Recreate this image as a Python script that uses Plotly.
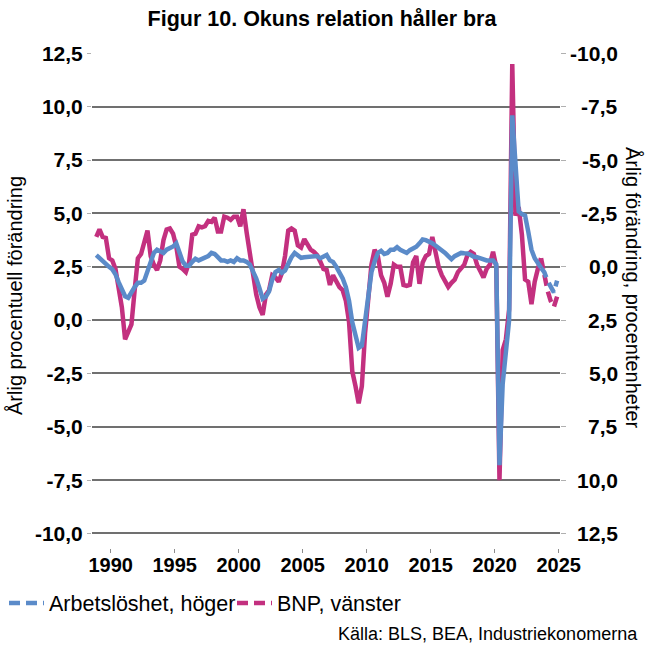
import pandas as pd
import plotly.graph_objects as go

# ---------------- data ----------------
quarters = pd.period_range("1988Q4", "2024Q4", freq="Q")
last_outcome = "2023Q3"   # after this quarter: forecast (dashed)

# BNP, annual % change (left axis)
bnp = [3.9, 4.25, 3.9, 3.85, 2.9, 2.8, 2.4, 1.6, 0.6, -0.9,
       -0.6, -0.2, 1.4, 2.9, 3.1, 3.6, 4.2, 3.0, 2.6, 2.35,
       2.8, 3.75, 4.25, 4.3, 4.05, 3.45, 2.5, 2.4, 2.25, 2.7,
       4.0, 4.05, 4.4, 4.35, 4.4, 4.65, 4.6, 4.8, 4.15, 4.15,
       4.85, 4.8, 4.7, 4.85, 4.85, 4.4, 5.2, 4.1, 3.0, 2.1,
       1.2, 0.6, 0.25, 1.2, 1.4, 2.1, 2.0, 1.8, 2.2, 3.0,
       4.2, 4.3, 4.2, 3.5, 3.4, 3.8, 3.55, 3.3, 3.2, 3.05,
       2.75, 2.4, 2.35, 1.65, 2.1, 1.8, 1.55, 1.4, 0.9, -0.1,
       -2.4, -3.1, -3.9, -3.1, -0.6, 1.0, 2.6, 3.3, 3.0, 2.1,
       1.75, 1.1, 1.7, 2.6, 2.5, 2.5, 1.65, 1.6, 1.65, 2.7,
       3.0, 1.7, 2.7, 3.0, 3.1, 3.9, 3.1, 2.5, 2.1, 1.8,
       1.56, 1.75, 1.9, 2.25, 2.4, 2.6, 3.05, 3.2, 3.1, 2.6,
       2.3, 2.0, 2.4, 2.6, 3.2, 2.5, -7.5, -1.4, -0.9, 0.5,
       12.0, 4.9, 5.3, 4.0, 1.9, 1.8, 0.75, 1.8, 2.4, 2.9,
       2.0, 1.4, 0.9, 0.62, 1.1]

# Arbetslöshet, annual change in percentage points (right axis, reversed)
arbetsloshet = [-0.55, -0.4, -0.25, -0.15, 0.0, 0.12, 0.35, 0.72, 1.05, 1.38,
                1.45, 1.15, 0.95, 0.75, 0.75, 0.65, 0.2, -0.3, -0.65, -0.8,
                -0.75, -0.65, -0.8, -0.88, -0.95, -1.1, -0.6, -0.25, -0.05, -0.05,
                -0.23, -0.38, -0.3, -0.38, -0.48, -0.5, -0.65, -0.6, -0.45, -0.3,
                -0.3, -0.23, -0.3, -0.23, -0.4, -0.3, -0.3, -0.23, -0.1, 0.2,
                0.55, 1.0, 1.5, 1.4, 1.15, 0.6, 0.25, 0.15, 0.28, 0.17,
                -0.15, -0.45, -0.65, -0.55, -0.42, -0.45, -0.47, -0.48, -0.52, -0.5,
                -0.4, -0.48, -0.55, -0.3, -0.22, 0.0, 0.25, 0.55, 0.95, 1.6,
                2.6, 3.3, 3.8, 3.7, 2.5, 1.25, 0.25, -0.25, -0.65, -0.75,
                -0.6, -0.65, -0.8, -0.8, -0.92, -0.8, -0.7, -0.65, -0.78, -0.86,
                -0.94, -1.1, -1.28, -1.25, -1.2, -1.1, -1.0, -0.9, -0.78, -0.65,
                -0.5, -0.36, -0.5, -0.58, -0.65, -0.63, -0.62, -0.55, -0.47, -0.45,
                -0.4, -0.3, -0.3, -0.3, -0.3, -0.12, 9.3, 5.5, 4.1, 2.5,
                -7.1, -4.4, -2.6, -2.47, -2.4, -1.65, -0.8, -0.4, -0.15, 0.05,
                0.25, 0.65, 0.95, 1.2, 0.65]

left_ticks = [12.5, 10.0, 7.5, 5.0, 2.5, 0.0, -2.5, -5.0, -7.5, -10.0]
right_ticks = [-10.0, -7.5, -5.0, -2.5, 0.0, 2.5, 5.0, 7.5, 10.0, 12.5]
year_ticks = [1990, 1995, 2000, 2005, 2010, 2015, 2020, 2025]

# ---------------- styling ----------------
BLUE = "#5B8BC9"
MAGENTA = "#C3307F"
FONT = "Liberation Sans"
LW = 4.5
DASH = "11px,6px"


def fmt(v):
    return f"{v:.1f}".replace(".", ",")


x = quarters.to_timestamp(how="start") + pd.Timedelta(days=45)
cut = list(quarters.astype(str)).index(last_outcome)

fig = go.Figure()
fig.add_trace(go.Scatter(x=x[:cut + 1], y=bnp[:cut + 1], mode="lines",
                         line=dict(color=MAGENTA, width=LW), showlegend=False,
                         hoverinfo="skip"))
fig.add_trace(go.Scatter(x=x[cut:], y=bnp[cut:], mode="lines", name="BNP, vänster",
                         line=dict(color=MAGENTA, width=LW, dash=DASH), legendrank=2))
fig.add_trace(go.Scatter(x=x[:cut + 1], y=arbetsloshet[:cut + 1], mode="lines", yaxis="y2",
                         line=dict(color=BLUE, width=LW), showlegend=False,
                         hoverinfo="skip"))
fig.add_trace(go.Scatter(x=x[cut:], y=arbetsloshet[cut:], mode="lines", yaxis="y2",
                         name="Arbetslöshet, höger",
                         line=dict(color=BLUE, width=LW, dash=DASH), legendrank=1))

W = H = 646
L, R, T, B = 92, 86, 53, 98
plot_h = H - T - B

annotations = []
for v in right_ticks:
    annotations.append(dict(x=1, xref="paper", y=v, yref="y2", text=fmt(v),
                            showarrow=False, xanchor="right", yanchor="middle",
                            xshift=60, font=dict(family=FONT, size=21, color="black",
                                                 weight="bold")))
annotations.append(dict(x=0, xref="paper", xshift=-77, y=(H - B - 296) / plot_h,
                        yref="paper", text="Årlig procentuell förändring", textangle=-90,
                        showarrow=False, xanchor="center", yanchor="middle",
                        font=dict(family=FONT, size=20, color="black")))
annotations.append(dict(x=1, xref="paper", xshift=73, y=(H - B - 288) / plot_h,
                        yref="paper", text="Årlig förändring, procentenheter", textangle=90,
                        showarrow=False, xanchor="center", yanchor="middle",
                        font=dict(family=FONT, size=20, color="black")))
annotations.append(dict(x=1, xref="paper", xshift=80, y=(H - B - 634) / plot_h,
                        yref="paper", text="Källa: BLS, BEA, Industriekonomerna",
                        showarrow=False, xanchor="right", yanchor="middle",
                        font=dict(family=FONT, size=18, color="black")))

fig.update_layout(
    width=W, height=H,
    margin=dict(l=L, r=R, t=T, b=B, autoexpand=False),
    paper_bgcolor="white", plot_bgcolor="white",
    font=dict(family=FONT, color="black"),
    title=dict(text="Figur 10. Okuns relation håller bra", x=322 / W, xref="container",
               xanchor="center", y=1 - 18 / H, yref="container", yanchor="middle",
               font=dict(family=FONT, size=21.5, color="black", weight="bold")),
    xaxis=dict(type="date", range=["1988-07-16", "2025-02-06"],
               tickvals=[f"{y}-01-01" for y in year_ticks],
               ticktext=[str(y) for y in year_ticks],
               ticks="outside", ticklen=4, tickwidth=1, tickcolor="#8c8c8c",
               ticklabelstandoff=-5,
               showgrid=False, zeroline=False, showline=False, automargin=False,
               tickfont=dict(family=FONT, size=20, color="black", weight="bold")),
    yaxis=dict(range=[-10.68, 12.52], tickvals=left_ticks,
               ticktext=[fmt(v) for v in left_ticks], automargin=False,
               showgrid=True, gridcolor="#707070", gridwidth=1.5, zeroline=False,
               showline=False, ticks="outside", ticklen=4, tickcolor="#b0b0b0",
               tickfont=dict(family=FONT, size=21, color="black", weight="bold")),
    yaxis2=dict(overlaying="y", side="right", range=[13.18, -10.02], automargin=False,
                tickvals=right_ticks, showticklabels=False, showgrid=False,
                zeroline=False, showline=False, ticks="outside", ticklen=5,
                tickcolor="#b0b0b0"),
    legend=dict(orientation="h", xref="container", x=4 / W, yref="container",
                y=1 - 603 / H, yanchor="middle", xanchor="left",
                font=dict(family=FONT, size=21.5, color="black"),
                itemwidth=35, entrywidth=178, entrywidthmode="pixels",
                tracegroupgap=0, bgcolor="rgba(0,0,0,0)"),
    annotations=annotations,
    showlegend=True,
)

fig.write_html("out.html", config={"displayModeBar": False},
               post_script="document.body.style.margin='0';")
